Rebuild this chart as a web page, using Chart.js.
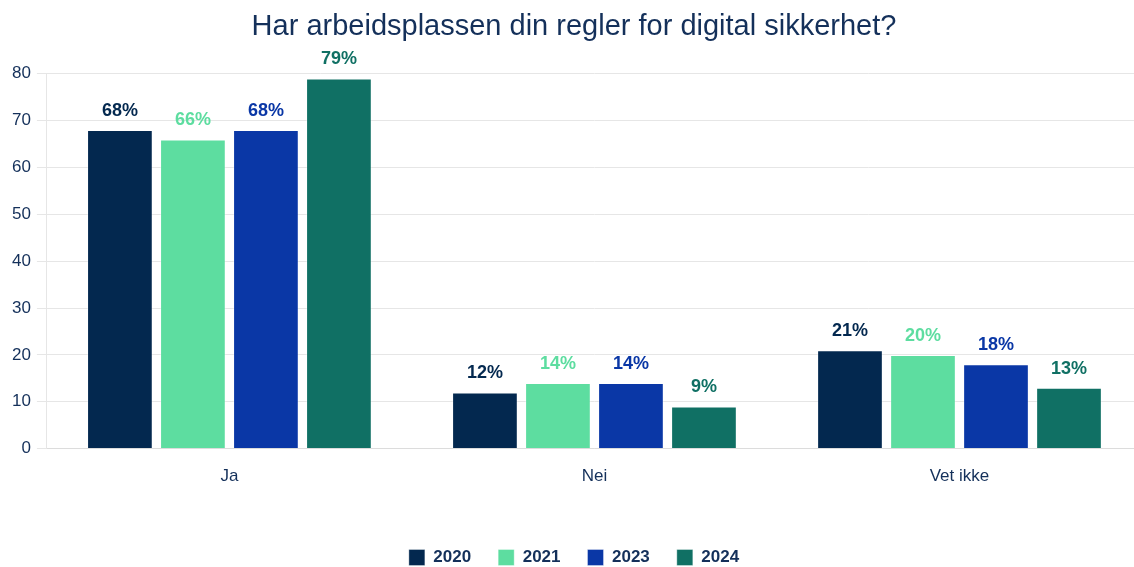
<!DOCTYPE html>
<html>
<head>
<meta charset="utf-8">
<script src="https://cdn.jsdelivr.net/npm/chart.js@4"></script>
<style>
  html, body { margin: 0; padding: 0; background: #fff; overflow: hidden; }
  #wrap { width: 1156px; height: 567px; }
</style>
</head>
<body>
<div id="wrap"><canvas id="grafico"></canvas></div>
<script>
const kategorier = ['Ja', 'Nei', 'Vet ikke'];
const aar = ['2020', '2021', '2023', '2024'];
const verdier2020 = [68, 12, 21];
const verdier2021 = [66, 14, 20];
const verdier2023 = [68, 14, 18];
const verdier2024 = [79, 9, 13];
const farger = ['#03284f', '#5ddda0', '#0a37a6', '#107064'];

const tekstFarge = '#14305a';
const fontFamilie = '"Liberation Sans", Arial, sans-serif';

// etiketter over stolpene
const etikettPlugin = {
  id: 'etiketter',
  beforeInit(chart) {
    // flytt legenden litt lenger ned
    const leg = chart.legend;
    if (leg) {
      const origFit = leg.fit;
      leg.fit = function () {
        origFit.call(this);
        this.height -= 9;
      };
    }
  },
  afterDatasetsDraw(chart) {
    const ctx = chart.ctx;
    ctx.save();
    ctx.font = 'bold 18px ' + fontFamilie;
    ctx.textAlign = 'center';
    ctx.textBaseline = 'alphabetic';
    chart.data.datasets.forEach((ds, i) => {
      const meta = chart.getDatasetMeta(i);
      ctx.fillStyle = ds.backgroundColor;
      meta.data.forEach((bar, j) => {
        ctx.fillText(ds.data[j] + '%', bar.x, bar.y - 14);
      });
    });
    ctx.restore();
  }
};

const serier = [verdier2020, verdier2021, verdier2023, verdier2024];

new Chart(document.getElementById('grafico'), {
  type: 'bar',
  data: {
    labels: kategorier,
    datasets: serier.map((v, i) => ({
      label: aar[i],
      data: v,
      backgroundColor: farger[i],
      borderColor: 'rgba(255,255,255,0.35)',
      borderWidth: 1,
      categoryPercentage: 0.8,
      barPercentage: 0.9
    }))
  },
  options: {
    responsive: true,
    maintainAspectRatio: false,
    animation: false,
    layout: { padding: { top: 0, right: 14, bottom: 0, left: 6 } },
    plugins: {
      title: {
        display: true,
        text: 'Har arbeidsplassen din regler for digital sikkerhet?',
        color: tekstFarge,
        font: { size: 29, family: fontFamilie, weight: 'normal' },
        padding: { top: 10, bottom: 29 }
      },
      legend: {
        position: 'bottom',
        labels: {
          color: tekstFarge,
          boxWidth: 16,
          boxHeight: 16,
          padding: 27,
          font: { size: 17, weight: 'bold', family: fontFamilie }
        }
      },
      tooltip: { enabled: false }
    },
    scales: {
      x: {
        grid: { display: false },
        border: { color: '#dcdcdc' },
        ticks: {
          color: tekstFarge,
          padding: 10,
          font: { size: 17, family: fontFamilie }
        },
        afterFit(scale) { scale.height += 25; }
      },
      y: {
        min: 0,
        max: 80,
        ticks: {
          stepSize: 10,
          color: tekstFarge,
          padding: 6,
          font: { size: 17, family: fontFamilie }
        },
        grid: { color: '#e6e6e6', tickLength: 10 },
        border: { color: '#e6e6e6' }
      }
    }
  },
  plugins: [etikettPlugin]
});
</script>
</body>
</html>
